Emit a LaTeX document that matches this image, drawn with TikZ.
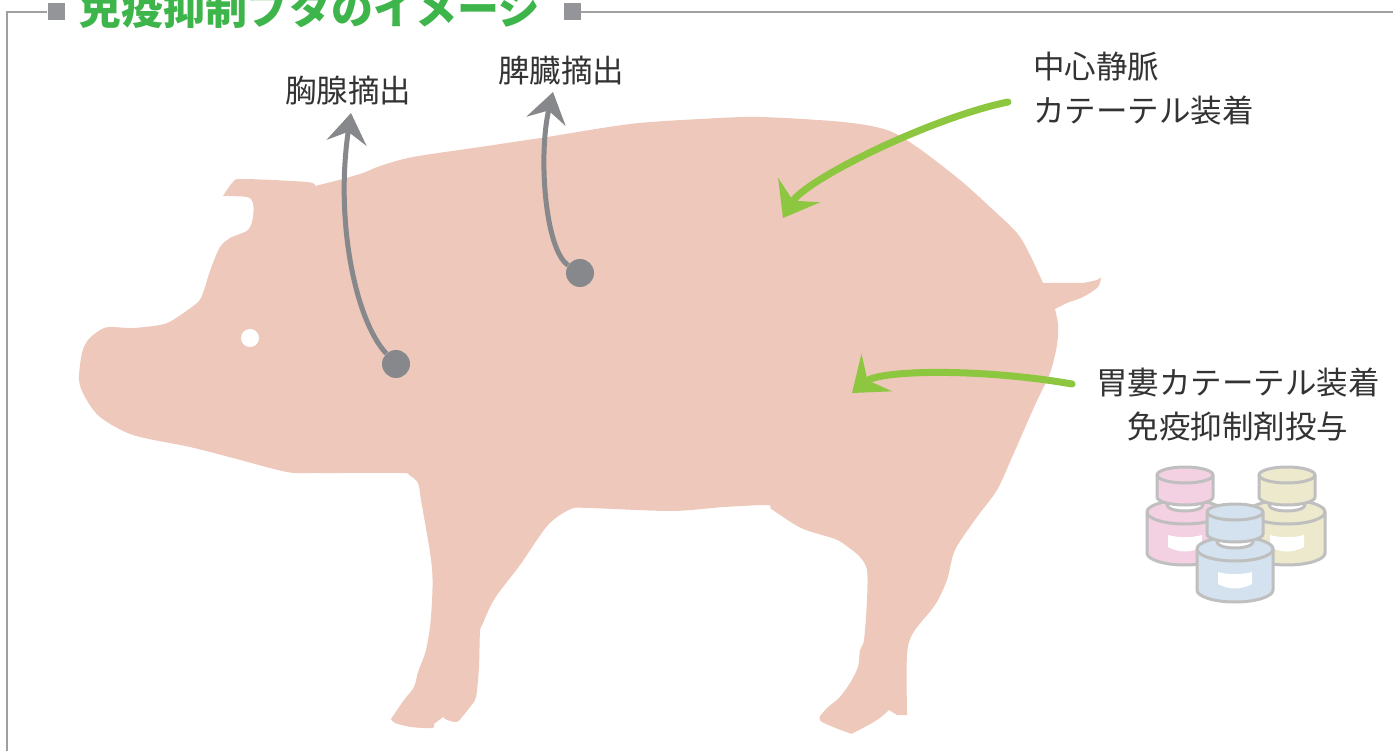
\documentclass[tikz,border=0pt]{standalone}
\usepackage{fontspec}
\usetikzlibrary{arrows.meta}
\newfontfamily\jpfont{Noto Sans CJK JP}

\definecolor{pigpink}{RGB}{237,200,187}
\definecolor{organgray}{RGB}{135,136,140}
\definecolor{linegreen}{RGB}{141,198,63}
\definecolor{titlegreen}{RGB}{61,181,74}
\definecolor{framegray}{RGB}{160,160,162}
\definecolor{markgray}{RGB}{147,149,152}
\definecolor{textgray}{RGB}{51,51,51}
\definecolor{bottleedge}{RGB}{191,191,191}
\definecolor{vialpink}{RGB}{243,208,226}
\definecolor{vialyellow}{RGB}{236,233,205}
\definecolor{vialblue}{RGB}{211,226,238}

% one drug vial: #1,#2 = centre of the cap top, #3 = colour
\newcommand{\vial}[3]{%
  \begin{scope}[shift={(#1,#2)}]
    \filldraw[bottle, fill=#3] (-38,37) -- (-38,78)
      arc[start angle=180, end angle=0, x radius=38, y radius=12]
      -- (38,37) arc[start angle=0, end angle=-180, x radius=38, y radius=12] -- cycle;
    \draw[bottle] (-38,37) arc[start angle=180, end angle=0, x radius=38, y radius=12];
    \fill[white] (-17,60) .. controls (-6,63) and (6,63) .. (17,60) -- (17,72)
      .. controls (6,78) and (-6,78) .. (-17,72) -- cycle;
    \filldraw[bottle, fill=white] (0,30) ellipse[x radius=18, y radius=6];
    \filldraw[bottle, fill=#3] (-28,0) -- (-28,22)
      arc[start angle=180, end angle=0, x radius=28, y radius=8]
      -- (28,0) arc[start angle=0, end angle=-180, x radius=28, y radius=8] -- cycle;
    \draw[bottle] (-28,0) arc[start angle=180, end angle=0, x radius=28, y radius=8];
  \end{scope}}

\begin{document}
\begin{tikzpicture}[x=1pt,y=-1pt,
pigskin/.style={fill=pigpink},
organ/.style={circle,fill=organgray,minimum size=28pt,inner sep=0pt},
removal/.style={draw=organgray,line width=5pt,-{Stealth[length=30pt,width=40pt,inset=11pt]}},
catheter/.style={draw=linegreen,line width=7pt,line cap=round,-{Stealth[length=32pt,width=48pt,inset=12pt]}},
lbl/.style={text=textgray,font=\jpfont\fontsize{31.5}{44}\selectfont,inner sep=0pt},
heading/.style={text=titlegreen,font=\jpfont\bfseries\fontsize{42}{42}\selectfont,inner sep=0pt},
marker/.style={fill=markgray,minimum size=17pt,inner sep=0pt},
frameline/.style={draw=framegray,line width=2pt},
bottle/.style={draw=bottleedge,line width=3pt,line join=round}]
\useasboundingbox (0,0) rectangle (1393,751);

% frame and heading
\node[heading,anchor=base west] (heading) at (79,25) {免疫抑制ブタのイメージ};
\node[marker] (markl) at (56,12) {};
\node[marker] (markr) at (572,12) {};
\draw[frameline] (7,751) |- (markl);
\draw[frameline] (markr) -- (1393,12);

% pig silhouette
\fill[pigskin]
  plot[smooth] coordinates {(315,186) (335,181) (363,173) (380,166) (413,157) (480,147) (547,137) (630,124) (700,119) (760,117) (843,122) (887,130) (917,147) (960,180) (990,207) (1017,233) (1030,255) (1043,283)}
  -- (1083,283)
  -- plot[smooth] coordinates {(1083,283) (1097,280) (1101,277)}
  -- plot[smooth] coordinates {(1101,277) (1098,287) (1083,297) (1067,303) (1055,309)}
  -- plot[smooth] coordinates {(1055,309) (1058,325) (1057,345) (1050,373) (1035,405) (1013,455) (997,490) (977,517) (955,550) (947,580) (935,605) (913,633) (907,655) (907,715)}
  -- (897,715) -- (889,710)
  -- plot[smooth] coordinates {(889,710) (877,720) (855,732) (849,733) (822,722) (820,716)}
  -- plot[smooth] coordinates {(820,716) (828,707) (839,698) (850,683) (858,667) (860,650) (864,640) (867,600) (867,570) (860,557) (848,547) (835,539) (801,528) (770,508)}
  -- plot[smooth] coordinates {(770,508) (767,505) (724,507) (671,511) (590,508) (571,509) (548,525) (520,565) (495,598) (483,623) (480,632) (479,667) (476,697) (470,707) (462,717) (457,722) (447,720) (443,717)}
  -- (434,724)
  -- plot[smooth] coordinates {(434,724) (432,728) (411,727) (395,723) (391,719)}
  -- plot[smooth] coordinates {(391,719) (404,700) (414,687) (418,672) (426,650) (431,617) (432,568) (421,500) (418,483) (409,475) (400,473) (317,473) (287,472) (233,458) (190,447) (133,435) (100,417) (85,397) (79,380) (82,353) (88,340) (100,330) (110,327) (133,328) (160,325) (173,320) (197,303) (203,293) (208,277) (213,263) (220,247) (230,238) (248,230) (253,217) (253,203) (247,197) (223,196)}
  -- plot[smooth] coordinates {(223,196) (233,182) (243,179) (307,182) (315,186)}
  -- cycle;
\fill[white] (250,338) circle[radius=9];

% organs taken out
\node[organ] (thymusdot) at (396,364) {};
\node[organ] (spleendot) at (580,273) {};
\node[lbl] (thymus) at (348,91) {胸腺摘出};
\node[lbl] (spleen) at (561,71) {脾臓摘出};
\coordinate (thymustip) at (351,113);
\coordinate (spleentip) at (553,92);
\draw[removal] (thymusdot) .. controls (355,320) and (335,220) .. (thymustip);
\draw[removal] (spleendot) .. controls (545,250) and (538,155) .. (spleentip);

% catheters
\node[lbl,anchor=west,align=left] (cvc) at (1033,89) {中心静脈\\カテーテル装着};
\node[lbl,align=center] (gastro) at (1238,405) {胃婁カテーテル装着\\免疫抑制剤投与};
\coordinate (cvcstart) at ([shift={(-25,13)}]cvc.west);
\coordinate (cvctip) at (783,218);
\coordinate (gastrostart) at ([shift={(-24,-21)}]gastro.west);
\coordinate (gastrotip) at (852,393);
\draw[catheter] (cvcstart) .. controls (930,118) and (805,180) .. (cvctip);
\draw[catheter] (gastrostart) .. controls (980,368) and (880,370) .. (gastrotip);

% drug vials
\vial{1185}{475}{vialpink}
\vial{1287}{475}{vialyellow}
\vial{1235}{512}{vialblue}
\end{tikzpicture}
\end{document}
